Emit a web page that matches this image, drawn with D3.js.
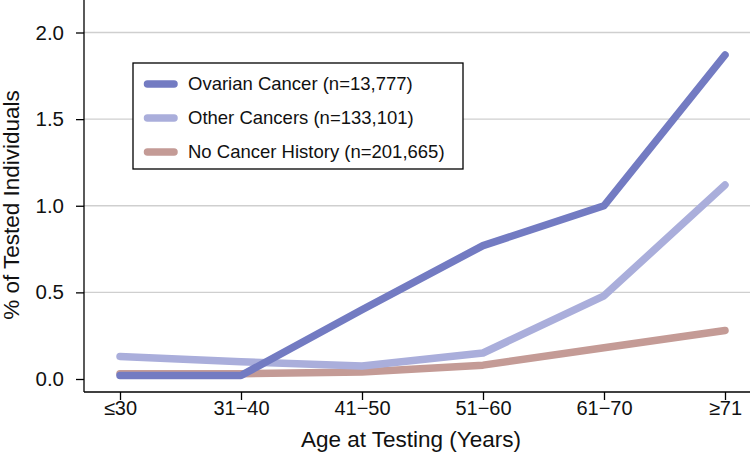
<!DOCTYPE html>
<html><head><meta charset="utf-8">
<script src="https://cdn.jsdelivr.net/npm/d3@7"></script>
<style>body{margin:0;background:#fff}svg{display:block;font-family:"Liberation Sans",Arial,sans-serif}</style>
</head><body>
<svg id="c" width="750" height="463"></svg>
<script>
const categories = ["\u226430", "31\u221240", "41\u221250", "51\u221260", "61\u221270", "\u226571"];
const ovarian = [0.02, 0.02, 0.40, 0.77, 1.00, 1.87];
const other = [0.13, 0.10, 0.075, 0.15, 0.48, 1.12];
const noCancer = [0.03, 0.03, 0.04, 0.08, 0.18, 0.28];
const yTicks = [0, 0.5, 1.0, 1.5, 2.0];
const seriesNames = ["Ovarian Cancer (n=13,777)", "Other Cancers (n=133,101)", "No Cancer History (n=201,665)"];
const seriesColors = ["#737bc2", "#aaaedb", "#c49b96"];

const svg = d3.select("#c");
const x = d3.scalePoint().domain(categories).range([120, 725]);
const y = d3.scaleLinear().domain([0, 2]).range([379, 32.5]);
const FONT = "Liberation Sans, Arial, sans-serif";

// gridlines
svg.append("g").selectAll("line").data(yTicks.filter(d => d > 0)).join("line")
  .attr("x1", 84).attr("x2", 750).attr("y1", d => y(d)).attr("y2", d => y(d))
  .attr("stroke", "#cfcfcf").attr("stroke-width", 1.3);

// y axis
const ya = svg.append("g").attr("transform", "translate(84,0)")
  .call(d3.axisLeft(y).tickValues(yTicks).tickFormat(d3.format(".1f")).tickSize(8).tickPadding(12));
ya.select(".domain").attr("d", "M0,0V392").attr("stroke", "#000").attr("stroke-width", 1.3);
ya.selectAll(".tick line").attr("stroke", "#000").attr("stroke-width", 1.3);
ya.selectAll(".tick text").attr("font-size", 20.5).attr("fill", "#111").attr("font-family", FONT);

// x axis
const xa = svg.append("g").attr("transform", "translate(0,392)")
  .call(d3.axisBottom(x).tickSize(8).tickPadding(1));
xa.select(".domain").attr("d", "M84,0H750").attr("stroke", "#000").attr("stroke-width", 1.3);
xa.selectAll(".tick line").attr("stroke", "#000").attr("stroke-width", 1.3);
xa.selectAll(".tick text").attr("font-size", 20).attr("fill", "#111").attr("font-family", FONT);

// axis titles
svg.append("text").attr("x", 411).attr("y", 447).attr("text-anchor", "middle")
  .attr("font-size", 22.5).attr("fill", "#111").text("Age at Testing (Years)");
svg.append("text").attr("transform", "translate(19,205) rotate(-90)").attr("text-anchor", "middle")
  .attr("font-size", 22.5).attr("fill", "#111").text("% of Tested Individuals");

// lines
const line = d3.line().x((d, i) => x(categories[i])).y(d => y(d));
const data = [noCancer, other, ovarian];
const cols = [seriesColors[2], seriesColors[1], seriesColors[0]];
svg.append("g").selectAll("path").data(data).join("path")
  .attr("d", line).attr("fill", "none").attr("stroke", (d, i) => cols[i])
  .attr("stroke-width", 7.5).attr("stroke-linecap", "round").attr("stroke-linejoin", "round");

// legend
const lg = svg.append("g");
lg.append("rect").attr("x", 133).attr("y", 63).attr("width", 330).attr("height", 106)
  .attr("fill", "#fff").attr("stroke", "#000").attr("stroke-width", 1.3);
seriesNames.forEach((n, i) => {
  const yy = 84 + i * 34;
  lg.append("line").attr("x1", 147.5).attr("x2", 174).attr("y1", yy).attr("y2", yy)
    .attr("stroke", seriesColors[i]).attr("stroke-width", 7.5).attr("stroke-linecap", "round");
  lg.append("text").attr("x", 188).attr("y", yy).attr("dy", "0.35em")
    .attr("font-size", 18.5).attr("fill", "#111").text(n);
});
</script>
</body></html>
